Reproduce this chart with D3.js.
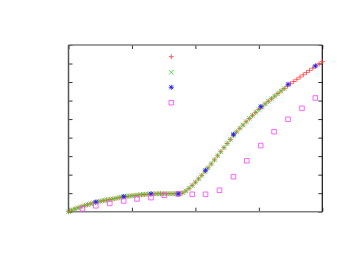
<!DOCTYPE html>
<html>
<head>
<meta charset="utf-8">
<script src="https://cdn.jsdelivr.net/npm/d3@7"></script>
<style>
  body { margin: 0; background: #fff; }
  svg { display: block; }
</style>
</head>
<body>
<svg id="chart"></svg>
<script>
// red "+" series, sampled every 0.05 from 0 to 4
var redX = [0.00,0.05,0.10,0.15,0.20,0.25,0.30,0.35,0.40,0.45,0.50,0.55,0.60,0.65,0.70,0.75,0.80,0.85,0.90,0.95,
            1.00,1.05,1.10,1.15,1.20,1.25,1.30,1.35,1.40,1.45,1.50,1.55,1.60,1.65,1.70,1.75,1.80,1.85,1.90,1.95,
            2.00,2.05,2.10,2.15,2.20,2.25,2.30,2.35,2.40,2.45,2.50,2.55,2.60,2.65,2.70,2.75,2.80,2.85,2.90,2.95,
            3.00,3.05,3.10,3.15,3.20,3.25,3.30,3.35,3.40,3.45,3.50,3.55,3.60,3.65,3.70,3.75,3.80,3.85,3.90,3.95,4.00];
var redY = [0.00,0.08,0.15,0.21,0.27,0.33,0.38,0.43,0.48,0.53,0.56,0.60,0.63,0.66,0.69,0.72,0.76,0.80,0.82,0.84,
            0.86,0.88,0.90,0.92,0.93,0.95,0.96,0.96,0.97,0.97,0.97,0.97,0.97,0.97,0.97,0.98,1.02,1.12,1.26,1.42,
            1.59,1.77,1.96,2.16,2.37,2.58,2.80,3.02,3.24,3.46,3.68,3.90,4.12,4.31,4.50,4.68,4.86,5.03,5.20,5.36,
            5.52,5.67,5.82,5.96,6.10,6.24,6.38,6.52,6.65,6.78,6.91,7.03,7.15,7.27,7.39,7.51,7.63,7.75,7.87,7.98,8.10];

// green "x" series, same sampling, stops at 3.4
var greenX = [0.00,0.05,0.10,0.15,0.20,0.25,0.30,0.35,0.40,0.45,0.50,0.55,0.60,0.65,0.70,0.75,0.80,0.85,0.90,0.95,
              1.00,1.05,1.10,1.15,1.20,1.25,1.30,1.35,1.40,1.45,1.50,1.55,1.60,1.65,1.70,1.75,1.80,1.85,1.90,1.95,
              2.00,2.05,2.10,2.15,2.20,2.25,2.30,2.35,2.40,2.45,2.50,2.55,2.60,2.65,2.70,2.75,2.80,2.85,2.90,2.95,
              3.00,3.05,3.10,3.15,3.20,3.25,3.30,3.35,3.40];
var greenY = [0.00,0.08,0.15,0.21,0.27,0.33,0.38,0.43,0.48,0.53,0.56,0.60,0.63,0.66,0.69,0.72,0.76,0.80,0.82,0.84,
              0.86,0.88,0.90,0.92,0.93,0.95,0.96,0.96,0.97,0.97,0.97,0.97,0.97,0.97,0.97,0.98,1.02,1.12,1.26,1.42,
              1.59,1.77,1.96,2.16,2.37,2.58,2.80,3.02,3.24,3.46,3.68,3.90,4.12,4.31,4.50,4.68,4.86,5.03,5.20,5.36,
              5.52,5.67,5.82,5.96,6.10,6.24,6.38,6.52,6.65];

// blue "*" series
var blueX = [0.43,0.87,1.30,1.73,2.16,2.60,3.03,3.46,3.89];
var blueY = [0.52,0.81,0.96,0.96,2.24,4.18,5.67,6.88,7.87];

// magenta open squares
var magX = [0.22,0.43,0.65,0.87,1.08,1.30,1.51,1.73,1.95,2.16,2.38,2.60,2.81,3.03,3.24,3.46,3.68,3.89];
var magY = [0.16,0.32,0.45,0.58,0.69,0.76,0.89,0.96,0.94,0.94,1.16,1.89,2.75,3.57,4.32,4.99,5.58,6.14];

var xTicks = [0, 1, 2, 3, 4];
var yTicks = [0, 1, 2, 3, 4, 5, 6, 7, 8, 9];

var W = 350, H = 261;
var margin = { top: 45, right: 27.7, bottom: 49.3, left: 68.5 };

var svg = d3.select("#chart")
    .attr("width", W)
    .attr("height", H);

var x = d3.scaleLinear().domain([0, 4]).range([margin.left, W - margin.right]);
var y = d3.scaleLinear().domain([0, 9]).range([H - margin.bottom, margin.top]);

// marker shapes, drawn as strokes like gnuplot points
function plusPath(r) {
    return "M" + (-r) + ",0H" + r + "M0," + (-r) + "V" + r;
}
function crossPath(r) {
    return "M" + (-r) + "," + (-r) + "L" + r + "," + r + "M" + (-r) + "," + r + "L" + r + "," + (-r);
}
function starPath(r) {
    return plusPath(r) + crossPath(r * 0.8);
}
function squarePath(r) {
    return "M" + (-r) + "," + (-r) + "H" + r + "V" + r + "H" + (-r) + "Z";
}

var series = [
    { xs: redX, ys: redY, color: "#ff3030", path: plusPath(2.5), width: 1, op: 0.75 },
    { xs: greenX, ys: greenY, color: "#20e020", path: crossPath(2.2), width: 1, op: 0.8 },
    { xs: blueX, ys: blueY, color: "#1a1aff", path: starPath(2.5), width: 1, op: 0.85 },
    { xs: magX, ys: magY, color: "#ff40ff", path: squarePath(2.3), width: 1, op: 0.8 }
];

// axes with inward ticks, no labels
var gx = svg.append("g")
    .attr("transform", "translate(0," + y(0) + ")")
    .call(d3.axisBottom(x).tickValues(xTicks).tickSize(-4).tickFormat(""));
var gxTop = svg.append("g")
    .attr("transform", "translate(0," + y(9) + ")")
    .call(d3.axisTop(x).tickValues(xTicks).tickSize(-4).tickFormat(""));
var gy = svg.append("g")
    .attr("transform", "translate(" + x(0) + ",0)")
    .call(d3.axisLeft(y).tickValues(yTicks).tickSize(-4).tickFormat(""));
var gyRight = svg.append("g")
    .attr("transform", "translate(" + x(4) + ",0)")
    .call(d3.axisRight(y).tickValues(yTicks).tickSize(-4).tickFormat(""));

[gx, gxTop, gy, gyRight].forEach(function (g) {
    g.select(".domain").remove();
    g.selectAll("line").attr("stroke", "#333").attr("stroke-width", 1);
});

// frame
svg.append("line").attr("x1", x(0)).attr("x2", x(4)).attr("y1", y(9)).attr("y2", y(9))
    .attr("stroke", "#808080").attr("stroke-width", 1.5);
svg.append("line").attr("x1", x(0)).attr("x2", x(4)).attr("y1", y(0)).attr("y2", y(0))
    .attr("stroke", "#808080").attr("stroke-width", 1.5);
svg.append("line").attr("x1", x(0)).attr("x2", x(0)).attr("y1", y(9)).attr("y2", y(0))
    .attr("stroke", "#555").attr("stroke-width", 1.5);
svg.append("line").attr("x1", x(4)).attr("x2", x(4)).attr("y1", y(9)).attr("y2", y(0))
    .attr("stroke", "#111").attr("stroke-width", 1.2);

// data points
series.forEach(function (s) {
    svg.append("g")
        .selectAll("path")
        .data(s.xs.map(function (d, i) { return [d, s.ys[i]]; }))
        .enter().append("path")
        .attr("transform", function (d) { return "translate(" + x(d[0]) + "," + y(d[1]) + ")"; })
        .attr("d", s.path)
        .attr("fill", "none")
        .attr("stroke", s.color)
        .attr("stroke-width", s.width)
        .attr("opacity", s.op);
});

// legend keys (no titles)
var legendY = [56.7, 72.3, 87.3, 102.7];
series.forEach(function (s, i) {
    svg.append("path")
        .attr("transform", "translate(171.3," + legendY[i] + ")")
        .attr("d", s.path)
        .attr("fill", "none")
        .attr("stroke", s.color)
        .attr("stroke-width", s.width)
        .attr("opacity", s.op);
});
</script>
</body>
</html>
